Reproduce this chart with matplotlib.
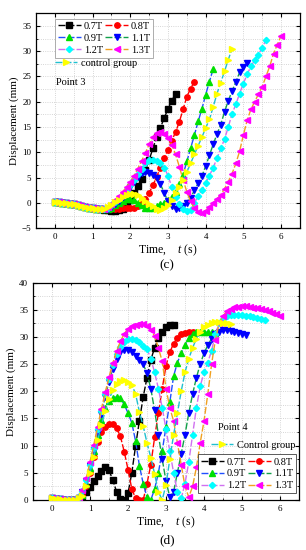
import numpy as np
import matplotlib
matplotlib.use('Agg')
import matplotlib.pyplot as plt
from matplotlib.ticker import MultipleLocator

plt.rcParams['font.family'] = ['Liberation Serif', 'DejaVu Serif']
plt.rcParams['mathtext.fontset'] = 'custom'
plt.rcParams['mathtext.it'] = 'Liberation Serif:italic'
plt.rcParams['mathtext.rm'] = 'Liberation Serif'

DT = 0.1  # sampling step of the measured series (s)

# ---- Point 3 (panel c) ----
p3_07 = [0.1, 0.1, 0.0, -0.1, -0.2, -0.3, -0.5, -0.6, -0.8, -0.9, -1.0, -1.1, -1.2,
         -1.3, -1.4, -1.5, -1.5, -1.4, -1.1, -0.5, 0.6, 1.9, 3.3, 4.8, 6.5, 8.5, 10.8,
         13.1, 14.9, 16.8, 18.6, 20.2, 21.6]
p3_08 = [0.1, 0.1, 0.0, -0.1, -0.2, -0.3, -0.5, -0.6, -0.8, -0.9, -1.0, -1.1, -1.2,
         -1.2, -1.2, -1.2, -1.2, -1.1, -1.0, -1.0, -1.0, -0.9, -0.7, -0.1, 0.8, 2.0, 3.5,
         5.2, 7.0, 8.9, 10.5, 12.3, 14.0, 16.0, 18.5, 21.0, 22.6, 24.0]
p3_09 = [0.1, 0.1, 0.0, -0.1, -0.2, -0.3, -0.5, -0.6, -0.8, -0.9, -1.0, -1.1, -1.2,
         -1.2, -1.1, -0.9, -0.5, -0.1, 0.4, 0.7, 0.7, 0.5, 0.0, -0.5, -0.9, -1.0, -0.9,
         -0.6, -0.3, 0.0, 0.5, 1.2, 2.2, 3.7, 5.6, 8.2, 10.8, 13.4, 16.1, 18.6, 21.4,
         24.0, 26.5]
p3_11 = [0.1, 0.1, 0.0, -0.1, -0.2, -0.3, -0.5, -0.6, -0.8, -0.9, -1.0, -1.1, -1.2,
         -1.2, -1.1, -0.8, -0.3, 0.4, 1.2, 2.2, 3.2, 4.2, 5.2, 5.9, 6.2, 6.0, 5.6, 4.9,
         3.7, 2.0, 0.3, -0.7, -1.1, -1.0, -0.7, 0.0, 1.0, 2.5, 3.9, 5.3, 7.3, 9.4, 11.6,
         13.6, 15.5, 18.0, 20.2, 22.1, 23.9, 25.8, 26.8, 27.6]
p3_12 = [0.1, 0.1, 0.0, -0.1, -0.2, -0.3, -0.5, -0.6, -0.8, -0.9, -1.0, -1.1, -1.2,
         -1.2, -1.0, -0.5, 0.1, 0.8, 1.6, 2.5, 3.5, 4.6, 5.7, 6.8, 7.8, 8.4, 8.5, 8.3,
         7.8, 7.0, 5.4, 3.2, 1.2, -0.3, -1.1, -1.5, -1.3, 0.0, 1.3, 2.6, 4.0, 5.4, 7.0,
         8.8, 10.8, 12.6, 15.0, 17.6, 19.5, 21.6, 23.6, 25.4, 27.0, 28.2, 29.3, 30.7, 32.2]
p3_13 = [0.1, 0.1, 0.0, -0.1, -0.2, -0.3, -0.5, -0.6, -0.8, -0.9, -1.0, -1.1, -1.2,
         -1.2, -0.8, -0.2, 0.5, 1.3, 2.2, 3.2, 4.2, 5.4, 6.8, 8.3, 9.9, 11.6, 13.0, 13.8,
         14.0, 13.7, 12.9, 11.5, 9.6, 7.2, 4.6, 2.2, 0.3, -1.0, -1.7, -1.9, -1.5, -0.8,
         0.0, 0.8, 1.6, 2.8, 4.2, 5.8, 7.8, 10.2, 13.4, 16.3, 18.5, 20.0, 21.5, 23.0,
         25.0, 27.0, 29.5, 31.3, 33.0]
p3_ctrl = [0.1, 0.1, 0.0, -0.1, -0.2, -0.3, -0.5, -0.6, -0.8, -0.9, -1.0, -1.1, -1.2,
           -1.1, -0.8, -0.4, 0.1, 0.6, 1.1, 1.6, 1.8, 1.8, 1.5, 1.0, 0.4, -0.2, -0.7,
           -1.1, -1.3, -1.0, -0.4, 0.6, 1.9, 3.2, 4.6, 6.1, 7.8, 9.6, 11.3, 13.0, 14.8,
           16.5, 19.0, 21.6, 23.8, 26.0, 28.3, 30.5]

# ---- Point 4 (panel d) ----
p4_07 = [0.3, 0.2, 0.1, 0.0, 0.0, 0.0, 0.0, 0.3, 0.8, 1.5, 2.4, 3.4, 4.5, 5.4, 6.0,
         5.5, 3.6, 1.5, 0.2, 0.0, 1.2, 5.0, 10.0, 14.6, 19.0, 22.5, 25.8, 28.0, 29.8,
         31.0, 31.8, 32.2, 32.3]
p4_08 = [0.3, 0.2, 0.1, 0.0, 0.0, 0.0, 0.0, 0.3, 1.0, 2.6, 5.0, 8.0, 10.7, 12.5, 13.5,
         14.0, 13.9, 13.2, 11.7, 8.9, 5.6, 2.0, 0.3, 0.0, 0.0, 3.0, 6.5, 11.5, 16.0,
         20.5, 24.7, 27.2, 28.8, 29.9, 30.5, 30.8, 30.9, 30.9, 30.8]
p4_09 = [0.3, 0.2, 0.1, 0.0, 0.0, 0.0, 0.0, 0.3, 1.0, 3.0, 5.8, 9.0, 12.0, 14.8, 17.0,
         18.3, 18.8, 19.0, 18.7, 17.6, 16.0, 14.2, 10.8, 6.3, 3.0, 0.5, 0.0, 2.0, 5.0,
         9.0, 13.5, 18.0, 22.8, 25.3, 27.0, 28.5, 29.8, 30.6, 31.0, 31.0, 30.9, 30.9,
         30.9, 30.8]
p4_11 = [0.3, 0.2, 0.1, 0.0, 0.0, 0.0, 0.0, 0.4, 1.5, 3.5, 6.2, 9.2, 12.5, 15.8, 19.0,
         21.8, 24.2, 26.0, 27.2, 27.7, 27.7, 27.3, 26.5, 25.8, 25.0, 23.3, 20.5, 16.5,
         12.0, 7.5, 3.5, 0.5, 1.5, 5.0, 8.5, 12.0, 16.0, 19.5, 22.5, 25.0, 27.0, 28.5,
         29.7, 30.5, 31.0, 31.2, 31.2, 31.1, 31.0, 30.8, 30.6, 30.4]
p4_12 = [0.3, 0.2, 0.1, 0.0, 0.0, 0.0, 0.0, 0.5, 1.6, 3.7, 6.5, 9.6, 13.0, 16.3, 19.5,
         22.3, 24.8, 26.8, 28.2, 29.1, 29.6, 29.7, 29.5, 29.0, 28.4, 27.8, 26.0, 23.5,
         20.5, 17.0, 13.0, 9.0, 5.0, 1.5, 0.3, 3.0, 7.0, 12.0, 17.0, 20.9, 23.5, 25.3,
         27.5, 30.5, 32.5, 33.3, 33.8, 34.0, 34.1, 34.1, 34.0, 33.9, 33.8, 33.6, 33.5,
         33.3, 33.1]
p4_13 = [0.3, 0.2, 0.1, 0.0, 0.0, 0.0, 0.0, 0.6, 1.8, 4.0, 7.0, 10.2, 13.5, 16.8, 19.8,
         22.6, 25.2, 27.4, 29.2, 30.6, 31.5, 32.0, 32.3, 32.4, 32.4, 32.0, 31.2, 30.2,
         28.0, 25.5, 20.5, 17.0, 14.5, 10.5, 6.5, 2.5, 0.5, 2.5, 6.0, 10.5, 14.5, 19.5,
         25.0, 29.5, 32.5, 33.9, 34.7, 35.2, 35.5, 35.6, 35.7, 35.7, 35.6, 35.4, 35.3,
         35.1, 34.9, 34.7, 34.5, 34.2, 33.9]
p4_ctrl = [0.3, 0.2, 0.1, 0.0, 0.0, 0.0, 0.0, 0.3, 0.8, 2.6, 5.0, 8.0, 11.0, 13.8,
           16.3, 18.5, 20.2, 21.3, 21.9, 22.1, 21.8, 21.2, 19.5, 16.2, 13.6, 10.5, 7.8,
           4.8, 1.5, 0.0, 2.8, 7.5, 12.0, 16.0, 20.0, 23.5, 26.0, 28.0, 29.7, 31.0, 31.9,
           32.3, 32.6, 32.7, 32.7, 32.6, 32.5, 32.4]

LABELS = ['0.7T', '0.8T', '0.9T', '1.1T', '1.2T', '1.3T', 'control group']
LINE_COLORS = ['black', 'red', '#1f4fff', '#11a04a', '#d070f0', '#f0a020', '#20c0d0']
MARK_COLORS = ['black', 'red', '#00e000', '#0000ff', '#00ffff', '#ff00ff', '#ffff00']
MARKERS = ['s', 'o', '^', 'v', 'D', '<', '>']


def draw(ax, series):
    handles = []
    for i, y in enumerate(series):
        t = np.arange(len(y)) * DT
        h, = ax.plot(t, y, color=LINE_COLORS[i], linestyle=(0, (5, 1.5)), lw=1.0,
                     marker=MARKERS[i], ms=3.9 if MARKERS[i] != 'D' else 3.2,
                     mfc=MARK_COLORS[i], mec=MARK_COLORS[i], zorder=3)
        handles.append(h)
    ax.set_xlim(-0.5, 6.5)
    ax.xaxis.set_major_locator(MultipleLocator(1))
    ax.xaxis.set_minor_locator(MultipleLocator(0.5))
    ax.yaxis.set_major_locator(MultipleLocator(5))
    ax.yaxis.set_minor_locator(MultipleLocator(2.5))
    ax.grid(True, which='both', color='#c8c8c8', linestyle=':', lw=0.6)
    ax.tick_params(which='both', direction='in', top=True, right=True, labelsize=6.5)
    ax.tick_params(which='major', length=3)
    ax.tick_params(which='minor', length=1.5)
    for s in ax.spines.values():
        s.set_linewidth(0.9)
    ax.set_xlabel('Time,    $t$ (s)', fontsize=8.5, labelpad=1)
    ax.set_ylabel('Displacement (mm)', fontsize=8, labelpad=2)
    return handles


fig = plt.figure(figsize=(3.06, 5.5), dpi=100)

# panel c
ax1 = fig.add_axes([0.118, 0.585, 0.862, 0.391])
h1 = draw(ax1, [p3_07, p3_08, p3_09, p3_11, p3_12, p3_13, p3_ctrl])
ax1.set_ylim(-5, 37.5)
order = [0, 2, 4, 1, 3, 5]
leg1 = ax1.legend([h1[k] for k in order], [LABELS[k] for k in order], ncol=2,
                  loc='upper left', bbox_to_anchor=(0.07, 0.975), fontsize=7.5,
                  frameon=True, fancybox=False, edgecolor='#a0a0a0', framealpha=1,
                  handlelength=2.2, handletextpad=0.3, columnspacing=0.2,
                  borderpad=0.3, labelspacing=0.25, borderaxespad=0)
leg1.get_frame().set_linewidth(0.6)
ax1.add_artist(leg1)
ax1.legend([h1[6]], [LABELS[6]], loc='upper left', bbox_to_anchor=(0.07, 0.79),
           fontsize=7.5, frameon=False, handlelength=2.2, handletextpad=0.3,
           borderpad=0, borderaxespad=0)
ax1.text(0.075, 0.68, 'Point 3', transform=ax1.transAxes, fontsize=7.5, va='center')
fig.text(0.545, 0.517, '(c)', ha='center', va='center', fontsize=9.5)

# panel d
ax2 = fig.add_axes([0.108, 0.091, 0.869, 0.395])
h2 = draw(ax2, [p4_07, p4_08, p4_09, p4_11, p4_12, p4_13, p4_ctrl])
ax2.set_ylim(0, 40)
leg2 = ax2.legend([h2[k] for k in order], [LABELS[k] for k in order], ncol=2,
                  loc='lower right', bbox_to_anchor=(0.99, 0.03), fontsize=7.5,
                  frameon=True, fancybox=False, edgecolor='#404040', framealpha=1,
                  handlelength=2.2, handletextpad=0.3, columnspacing=0.2,
                  borderpad=0.3, labelspacing=0.25, borderaxespad=0)
leg2.get_frame().set_linewidth(0.6)
ax2.add_artist(leg2)
ax2.legend([h2[6]], ['Control group'], loc='lower right', bbox_to_anchor=(0.985, 0.23),
           fontsize=7.5, frameon=False, handlelength=2.2, handletextpad=0.3,
           borderpad=0, borderaxespad=0)
ax2.text(0.75, 0.335, 'Point 4', transform=ax2.transAxes, fontsize=7.5,
         ha='center', va='center')
fig.text(0.545, 0.018, '(d)', ha='center', va='center', fontsize=9.5)

fig.savefig('out.png', dpi=100)
